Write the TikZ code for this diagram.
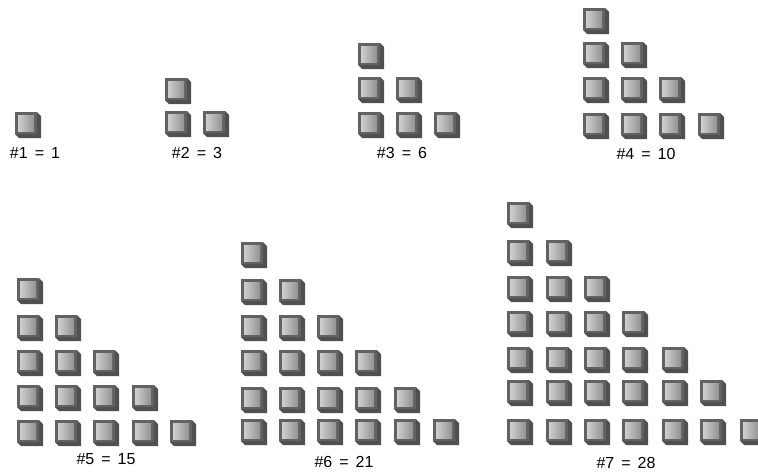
\documentclass[tikz,border=0pt]{standalone}
\usepackage{fontspec}
\setmainfont{Liberation Sans}
\definecolor{cubeshadow}{HTML}{505050}
\definecolor{cubeframe}{HTML}{626262}
\definecolor{cubelight}{HTML}{CFCFCF}
\definecolor{cubedark}{HTML}{929292}
\tikzset{
  cube/.pic={
    \fill[cubeshadow] (0,0) -- (22,0) -- (26,4) -- (26,26) -- (4,26) -- (0,22) -- cycle;
    \fill[cubeframe] (0,0) rectangle (22,22);
    \shade[left color=cubelight, right color=cubedark] (3,3) rectangle (19,19);
  },
  lbl/.style={anchor=base, inner sep=0pt, font=\fontsize{16}{18}\selectfont, text=black}
}
\newcommand{\eqs}{\hspace{7pt}=\hspace{7pt}}
\begin{document}
\begin{tikzpicture}[x=1pt,y=-1pt]
\useasboundingbox (0,0) rectangle (758,474);
\clip (0,0) rectangle (758,474);
% #1
\pic at (15,112) {cube};
% #2
\foreach \y [count=\r] in {78,111} {
  \foreach \x [count=\c] in {165,203} {
    \ifnum\c>\r\relax\else \pic at (\x,\y) {cube};\fi
  }
}
% #3
\foreach \y [count=\r] in {43,77,112} {
  \foreach \x [count=\c] in {358,396,434} {
    \ifnum\c>\r\relax\else \pic at (\x,\y) {cube};\fi
  }
}
% #4
\foreach \y [count=\r] in {8,42,77,113} {
  \foreach \x [count=\c] in {583,621,659,698} {
    \ifnum\c>\r\relax\else \pic at (\x,\y) {cube};\fi
  }
}
% #5
\foreach \y [count=\r] in {278,315,350,385,420} {
  \foreach \x [count=\c] in {17,55,93,132,170} {
    \ifnum\c>\r\relax\else \pic at (\x,\y) {cube};\fi
  }
}
% #6
\foreach \y [count=\r] in {242,279,315,350,387,419} {
  \foreach \x [count=\c] in {241,279,317,355,394,433} {
    \ifnum\c>\r\relax\else \pic at (\x,\y) {cube};\fi
  }
}
% #7
\foreach \y [count=\r] in {202,240,276,311,347,380,419} {
  \foreach \x [count=\c] in {507,546,584,622,662,700,740} {
    \ifnum\c>\r\relax\else \pic at (\x,\y) {cube};\fi
  }
}
% labels
\node[lbl] (l1) at (35,158) {\#1\eqs 1};
\node[lbl] (l2) at (197,158) {\#2\eqs 3};
\node[lbl] (l3) at (402,158) {\#3\eqs 6};
\node[lbl] (l4) at (646,159) {\#4\eqs 10};
\node[lbl] (l5) at (106,464) {\#5\eqs 15};
\node[lbl] (l6) at (344,467) {\#6\eqs 21};
\node[lbl] (l7) at (626,468) {\#7\eqs 28};
\end{tikzpicture}
\end{document}
